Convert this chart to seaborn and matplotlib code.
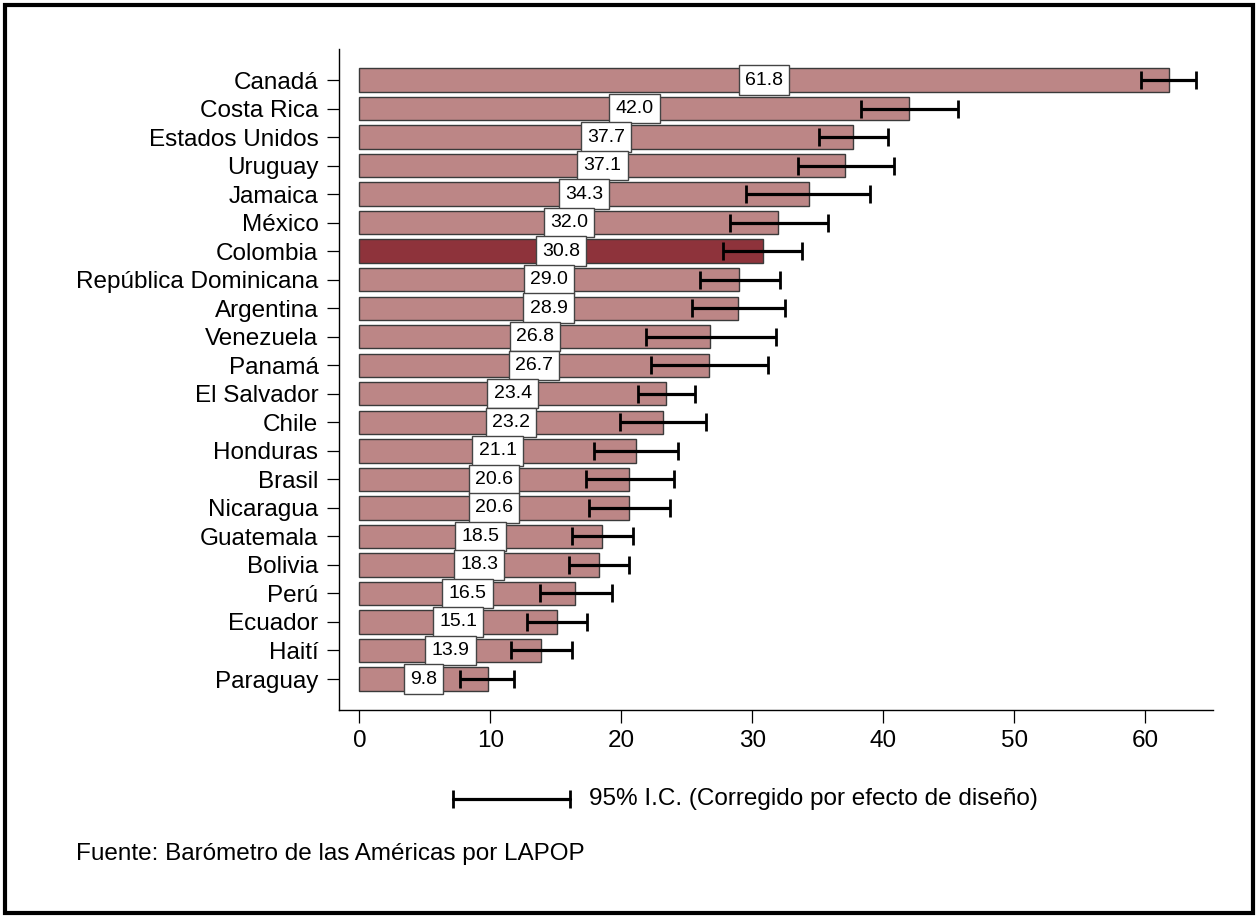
import matplotlib
matplotlib.use("Agg")
import matplotlib.pyplot as plt
from matplotlib.lines import Line2D
from matplotlib.patches import Rectangle
import numpy as np
import pandas as pd
import seaborn as sns

countries = ["Canadá", "Costa Rica", "Estados Unidos", "Uruguay", "Jamaica", "México",
             "Colombia", "República Dominicana", "Argentina", "Venezuela", "Panamá",
             "El Salvador", "Chile", "Honduras", "Brasil", "Nicaragua", "Guatemala",
             "Bolivia", "Perú", "Ecuador", "Haití", "Paraguay"]
values = [61.8, 42.0, 37.7, 37.1, 34.3, 32.0, 30.8, 29.0, 28.9, 26.8, 26.7,
          23.4, 23.2, 21.1, 20.6, 20.6, 18.5, 18.3, 16.5, 15.1, 13.9, 9.8]
ci_low = [59.7, 38.3, 35.1, 33.5, 29.5, 28.3, 27.8, 26.0, 25.4, 21.9, 22.3,
          21.3, 19.9, 17.9, 17.3, 17.5, 16.2, 16.0, 13.8, 12.8, 11.6, 7.7]
ci_high = [63.9, 45.7, 40.4, 40.8, 39.0, 35.8, 33.8, 32.1, 32.5, 31.8, 31.2,
           25.6, 26.5, 24.3, 24.0, 23.7, 20.9, 20.6, 19.3, 17.4, 16.2, 11.8]
x_ticks = [0, 10, 20, 30, 40, 50, 60]
highlight = "Colombia"

legend_text = "95% I.C. (Corregido por efecto de diseño)"
source_text = "Fuente: Barómetro de las Américas por LAPOP"

sns.set_theme(style="white")
plt.rcParams["font.family"] = ["Liberation Sans", "DejaVu Sans"]

BIG = 17.5
SMALL = 14
bar_color = "#BC8686"
hi_color = "#8E333B"

df = pd.DataFrame({
    "pais": countries,
    "valor": values,
    "grupo": ["hi" if c == highlight else "base" for c in countries],
})

fig = plt.figure(figsize=(12.58, 9.18), dpi=100)
ax = fig.add_axes([0.2697, 0.2271, 0.6948, 0.7195])

sns.barplot(data=df, x="valor", y="pais", hue="grupo", orient="h",
            palette={"base": bar_color, "hi": hi_color}, dodge=False,
            saturation=1, width=0.82, edgecolor="#3a3a3a", linewidth=1.0,
            legend=False, errorbar=None, ax=ax, order=countries)

ypos = np.arange(len(countries))
v = np.array(values)
lo = np.array(ci_low)
hi = np.array(ci_high)
mid = (lo + hi) / 2
ax.errorbar(mid, ypos, xerr=(hi - lo) / 2, fmt="none", ecolor="black",
            elinewidth=2.3, capsize=6.3, capthick=2.0, zorder=4)

for y, val in zip(ypos, v):
    ax.text(val / 2, y, f"{val:.1f}", ha="center", va="center", fontsize=SMALL,
            color="black", zorder=5,
            bbox=dict(boxstyle="square,pad=0.32", facecolor="white",
                      edgecolor="#444444", linewidth=1.0))

ax.set_xlim(-1.53, 65.2)
ax.set_ylim(22.07, -1.087)
ax.set_xticks(x_ticks)
ax.set_xticklabels([str(t) for t in x_ticks])
ax.set_xlabel("")
ax.set_ylabel("")
for s in ["top", "right"]:
    ax.spines[s].set_visible(False)
for s in ["left", "bottom"]:
    ax.spines[s].set_color("black")
    ax.spines[s].set_linewidth(1.0)
ax.tick_params(axis="both", which="major", direction="out", length=9,
               width=0.9, color="black", labelsize=BIG, labelcolor="black", pad=6,
               left=True, bottom=True)

# confidence interval key below the axis
ky = 1 - 799 / 918
fig.add_artist(Line2D([453 / 1258, 570 / 1258], [ky, ky], color="black", lw=2.3,
                      transform=fig.transFigure))
for kx in (453 / 1258, 570 / 1258):
    fig.add_artist(Line2D([kx], [ky], marker="|", markersize=12.6, mew=2.0,
                          color="black", transform=fig.transFigure))
fig.text(589 / 1258, ky, legend_text, fontsize=BIG, ha="left", va="center",
         color="black")

fig.text(76 / 1258, 1 - 854 / 918, source_text, fontsize=BIG, ha="left",
         va="center", color="black")

# outer frame
fig.add_artist(Rectangle((5 / 1258, 5 / 918), 1248 / 1258, 908 / 918,
                         transform=fig.transFigure, fill=False,
                         edgecolor="black", linewidth=3.0))

fig.savefig("out.png", dpi=100, facecolor="white")
